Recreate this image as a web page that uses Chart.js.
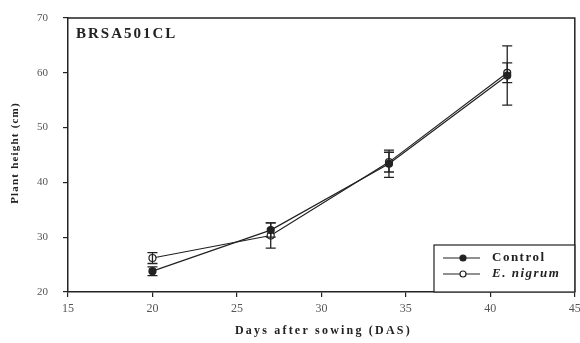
<!DOCTYPE html>
<html lang="en">
<head>
<meta charset="UTF-8">
<title>Plant height - BRSA501CL</title>
<script src="https://cdn.jsdelivr.net/npm/chart.js"></script>
<style>
    body { margin: 0; background: #fff; }
    #wrap { width: 580px; height: 343px; }
</style>
</head>
<body>
<div id="wrap"><canvas id="heightChart" width="580" height="343"></canvas></div>
<script>
    // data
    const days = [20, 27, 34, 41];
    const control = [23.8, 31.3, 43.4, 59.5];
    const controlErr = [0.8, 1.3, 2.5, 5.4];
    const nigrum = [26.2, 30.3, 43.7, 60.0];
    const nigrumErr = [1.0, 2.3, 1.8, 1.8];
    const xTicks = [15, 20, 25, 30, 35, 40, 45];
    const yTicks = [20, 30, 40, 50, 60, 70];

    const ink = '#222';
    const serif = "'Liberation Serif', 'DejaVu Serif', serif";

    // error bars, frame, titles and legend box
    const extras = {
        id: 'extras',
        afterDatasetsDraw(chart) {
            const c = chart.ctx, x = chart.scales.x, y = chart.scales.y, a = chart.chartArea;
            c.save();
            c.strokeStyle = ink;
            c.lineWidth = 1.3;
            [[control, controlErr], [nigrum, nigrumErr]].forEach(([vals, errs]) => {
                vals.forEach((v, i) => {
                    const px = x.getPixelForValue(days[i]);
                    const top = y.getPixelForValue(v + errs[i]);
                    const bot = y.getPixelForValue(v - errs[i]);
                    c.beginPath();
                    c.moveTo(px, top); c.lineTo(px, bot);
                    c.moveTo(px - 5, top); c.lineTo(px + 5, top);
                    c.moveTo(px - 5, bot); c.lineTo(px + 5, bot);
                    c.stroke();
                });
            });
            // top and right frame
            c.lineWidth = 1.5;
            c.beginPath();
            c.moveTo(a.left, a.top); c.lineTo(a.right, a.top); c.lineTo(a.right, a.bottom);
            c.stroke();

            c.fillStyle = ink;
            c.textBaseline = 'middle';

            // panel title
            c.font = 'bold 15px ' + serif;
            c.letterSpacing = '2px';
            c.fillText('BRSA501CL', a.left + 8, 34);

            // axis titles (spaced out like the original)
            c.font = 'bold 12px ' + serif;
            c.letterSpacing = '2.2px';
            c.textAlign = 'center';
            c.fillText('Days after sowing (DAS)', (a.left + a.right) / 2 + 2, 331);
            c.save();
            c.translate(15, 153);
            c.rotate(-Math.PI / 2);
            c.font = 'bold 11px ' + serif;
            c.letterSpacing = '1.2px';
            c.fillText('Plant height (cm)', 0, 0);
            c.restore();
            c.textAlign = 'left';

            // legend box
            const lx = 434, ly = 245, lw = a.right - lx, lh = a.bottom - ly;
            c.fillStyle = '#fff';
            c.fillRect(lx, ly, lw, lh);
            c.lineWidth = 1.2;
            c.strokeRect(lx, ly, lw, lh);
            const rows = [
                { label: 'Control', fill: ink, italic: false, yy: ly + 13 },
                { label: 'E. nigrum', fill: '#fff', italic: true, yy: ly + 29 }
            ];
            rows.forEach(r => {
                c.strokeStyle = ink;
                c.lineWidth = 1.2;
                c.beginPath();
                c.moveTo(lx + 9, r.yy); c.lineTo(lx + 46, r.yy);
                c.stroke();
                c.beginPath();
                c.arc(lx + 29, r.yy, 3, 0, Math.PI * 2);
                c.fillStyle = r.fill;
                c.fill();
                c.stroke();
                c.fillStyle = ink;
                c.font = (r.italic ? 'italic bold ' : 'bold ') + '13px ' + serif;
                c.letterSpacing = '1.5px';
                c.fillText(r.label, lx + 58, r.yy);
            });
            c.restore();
        }
    };

    const ctx = document.getElementById('heightChart').getContext('2d');
    new Chart(ctx, {
        type: 'line',
        data: {
            datasets: [
                {
                    label: 'Control',
                    data: days.map((d, i) => ({ x: d, y: control[i] })),
                    borderColor: ink,
                    borderWidth: 1.2,
                    pointRadius: 3.5,
                    pointBackgroundColor: ink,
                    pointBorderColor: ink,
                    tension: 0
                },
                {
                    label: 'E. nigrum',
                    data: days.map((d, i) => ({ x: d, y: nigrum[i] })),
                    borderColor: ink,
                    borderWidth: 1.2,
                    pointRadius: 3.5,
                    pointBackgroundColor: '#fff',
                    pointBorderColor: ink,
                    pointBorderWidth: 1.2,
                    tension: 0
                }
            ]
        },
        options: {
            responsive: false,
            animation: false,
            layout: { padding: { top: 18, right: 5, left: 0, bottom: 0 } },
            plugins: { legend: { display: false }, tooltip: { enabled: false } },
            scales: {
                x: {
                    type: 'linear',
                    min: 15, max: 45,
                    afterBuildTicks: s => { s.ticks = xTicks.map(v => ({ value: v })); },
                    afterFit: s => { s.height = 51; s.paddingRight = 0; s.paddingLeft = 0; },
                    grid: { drawOnChartArea: false, tickLength: 5, color: ink, lineWidth: 1.2 },
                    border: { color: ink, width: 1.5 },
                    ticks: { color: '#555', font: { family: serif, size: 12 }, padding: 5, maxRotation: 0 }
                },
                y: {
                    min: 20, max: 70,
                    afterBuildTicks: s => { s.ticks = yTicks.map(v => ({ value: v })); },
                    afterFit: s => { s.width = 68; s.paddingTop = 0; s.paddingBottom = 0; },
                    grid: { drawOnChartArea: false, tickLength: 5, color: ink, lineWidth: 1.2 },
                    border: { color: ink, width: 1.5 },
                    ticks: { color: '#555', font: { family: serif, size: 11 }, padding: 15 }
                }
            }
        },
        plugins: [extras]
    });
</script>
</body>
</html>
